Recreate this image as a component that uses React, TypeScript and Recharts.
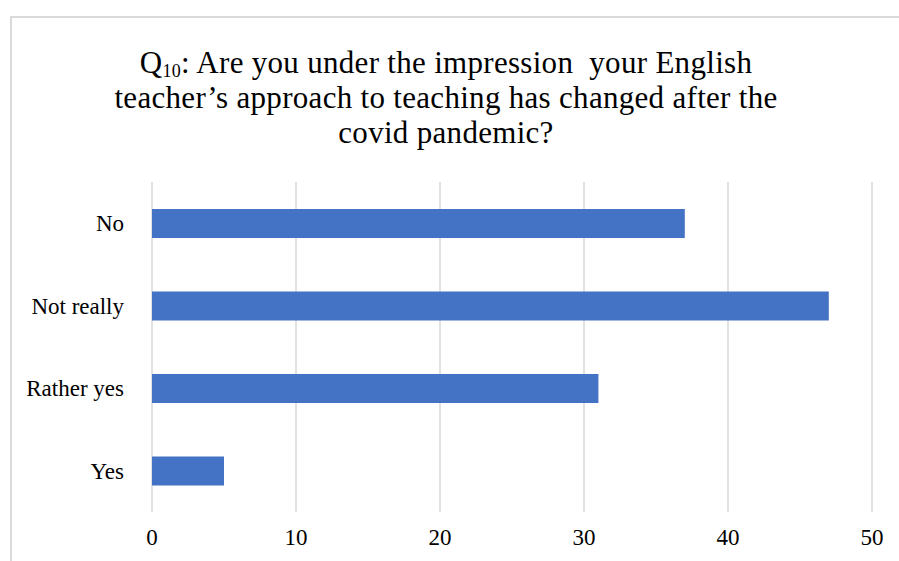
import React from "react";
import { BarChart, Bar, XAxis, YAxis, CartesianGrid } from "recharts";

const categories = ["No", "Not really", "Rather yes", "Yes"];
const counts = [37, 47, 31, 5];
const xTicks = [0, 10, 20, 30, 40, 50];

const FONT = '"Liberation Serif", "Times New Roman", serif';

export default function App() {
  const data = categories.map((name, i) => ({ name, value: counts[i] }));

  return (
    <div style={{ position: "absolute", left: 0, top: 0, width: 899, height: 561, overflow: "hidden", background: "#fff" }}>
      {/* chart frame, runs past the right and bottom edge */}
      <div
        style={{
          position: "absolute",
          left: 10,
          top: 16,
          width: 900,
          height: 560,
          border: "2px solid #d9d9d9",
        }}
      />
      <div
        style={{
          position: "absolute",
          left: 0,
          top: 45,
          width: 892,
          textAlign: "center",
          fontFamily: FONT,
          fontSize: 31,
          letterSpacing: 0.3,
          lineHeight: "35px",
          color: "#000",
        }}
      >
        Q<sub style={{ fontSize: 18, verticalAlign: "-4px", lineHeight: 0 }}>10</sub>: Are you under the impression&nbsp; your English
        <br />
        teacher’s approach to teaching has changed after the
        <br />
        covid pandemic?
      </div>
      <div style={{ position: "absolute", left: 0, top: 0 }}>
        <BarChart
          width={899}
          height={561}
          data={data}
          layout="vertical"
          margin={{ top: 182, right: 27, bottom: 9, left: 12 }}
          barCategoryGap={0}
        >
          <CartesianGrid horizontal={false} stroke="#d9d9d9" strokeWidth={1.5} />
          <XAxis
            type="number"
            domain={[0, 50]}
            ticks={xTicks}
            axisLine={false}
            tickLine={false}
            tickSize={0}
            tickMargin={17}
            height={40}
            tick={{ fill: "#000", fontFamily: FONT, fontSize: 23 }}
          />
          <YAxis
            type="category"
            dataKey="name"
            width={140}
            axisLine={false}
            tickLine={false}
            tickSize={0}
            tickMargin={28}
            tick={{ fill: "#000", fontFamily: FONT, fontSize: 23 }}
          />
          <Bar dataKey="value" fill="#4472c4" barSize={29} isAnimationActive={false} />
        </BarChart>
      </div>
    </div>
  );
}
